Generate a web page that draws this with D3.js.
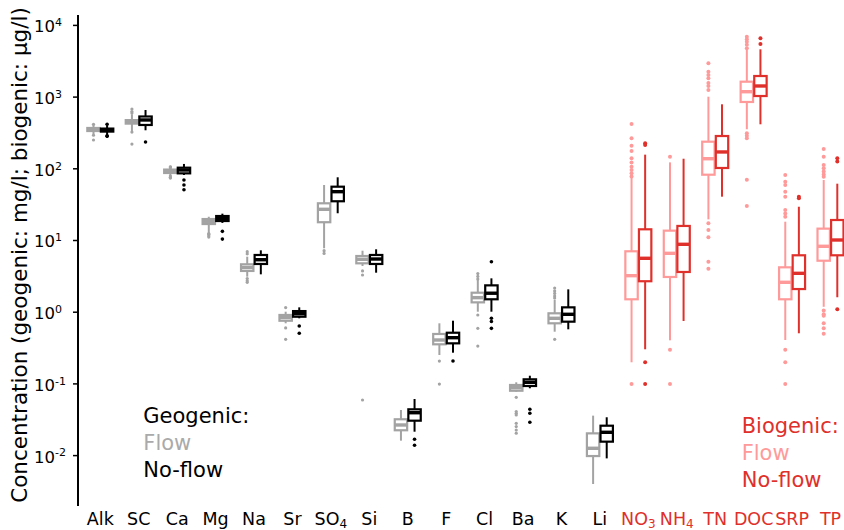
<!DOCTYPE html>
<html>
<head>
<meta charset="utf-8">
<script src="https://cdn.jsdelivr.net/npm/d3@7"></script>
<style>
  body { margin: 0; background: #fff; }
  svg { display: block; font-family: 'DejaVu Sans', sans-serif; }
</style>
</head>
<body>
<svg id="chart" width="844" height="530"></svg>
<script>
// categories, in plot order; the last six are biogenic (µg/l)
const categories = ['Alk','SC','Ca','Mg','Na','Sr','SO4','Si','B','F','Cl','Ba','K','Li','NO3','NH4','TN','DOC','SRP','TP']
const biogenic   = ['NO3','NH4','TN','DOC','SRP','TP']

// box stats per category: [whisker low, q1, median, q3, whisker high]
const flowStats = [
  [301, 331, 348, 365, 402],
  [331, 420, 447, 470, 566],
  [71, 86, 91.7, 96, 109],
  [12.5, 16.7, 18.1, 19.6, 21.1],
  [3.08, 3.70, 4.13, 4.58, 5.85],
  [0.689, 0.748, 0.83, 0.90, 1.0],
  [7.66, 17.7, 26.8, 32.5, 58.5],
  [4.34, 4.73, 5.38, 5.98, 7.09],
  [0.0159, 0.0222, 0.0263, 0.0316, 0.0426],
  [0.249, 0.351, 0.403, 0.489, 0.689],
  [1.0, 1.35, 1.57, 1.84, 2.77],
  [0.0766, 0.079, 0.0871, 0.095, 0.1036],
  [0.526, 0.689, 0.809, 0.95, 1.46],
  [0.00395, 0.0097, 0.01245, 0.0201, 0.0355],
  [0.197, 1.49, 3.18, 6.96, 76.3],
  [0.399, 3.05, 6.52, 13.5, 121],
  [19.4, 81.4, 136, 235, 997],
  [350, 841, 1170, 1614, 4467],
  [0.403, 1.49, 2.57, 4.16, 18.0],
  [1.17, 5.14, 8.17, 14.4, 68.7],
]
const noflowStats = [
  [267, 325, 343, 358, 395],
  [339, 402, 472, 528, 650],
  [80.7, 85, 94.7, 102, 115],
  [17.3, 18.4, 20, 21.6, 23.3],
  [3.32, 4.63, 5.31, 6.18, 7.18],
  [0.809, 0.851, 0.938, 1.02, 1.15],
  [23.6, 34.7, 47.2, 55.4, 74.9],
  [3.50, 4.63, 5.43, 6.18, 7.42],
  [0.0212, 0.0302, 0.039, 0.0435, 0.0606],
  [0.268, 0.362, 0.434, 0.509, 0.749],
  [1.0, 1.49, 1.81, 2.33, 2.92],
  [0.0855, 0.092, 0.1036, 0.114, 0.128],
  [0.568, 0.726, 0.92, 1.15, 2.05],
  [0.0090, 0.0154, 0.0208, 0.0257, 0.0337],
  [0.299, 2.66, 5.56, 14.1, 155],
  [0.742, 3.58, 8.71, 15.7, 136],
  [40.2, 101, 169, 282, 781],
  [411, 1019, 1406, 1937, 4567],
  [0.50, 2.07, 3.43, 6.12, 29.1],
  [1.59, 6.12, 10.0, 19.0, 61],
]

// outliers per category
const flowOutliers = [
  [248, 410, 290],
  [218, 671, 620, 590, 320],
  [105, 102, 78, 75, 73],
  [11, 11.5, 12, 12.3],
  [6.87, 6.4, 2.57, 2.7, 2.9],
  [1.14, 0.593, 0.412],
  [7.1, 6.5],
  [3.7, 3.25, 0.0587],
  [],
  [0.205, 0.098],
  [3.4, 3.1, 2.85, 0.9, 0.586, 0.332],
  [0.064, 0.0404, 0.0383, 0.0363, 0.0277, 0.025, 0.0224, 0.0202],
  [2.14, 1.95, 1.8, 1.65, 1.55, 0.412],
  [],
  [415, 262, 207, 174, 138, 120, 105, 95, 85, 77, 0.098],
  [145, 0.295, 0.098],
  [2911, 2223, 2000, 1800, 1550, 1400, 1236, 17.1, 13.8, 10.9, 4.98, 3.98],
  [6840, 6300, 5800, 5300, 4720, 308, 285, 262, 69.3, 29.8],
  [80.7, 65, 58.5, 47.2, 40.2, 26.2, 23.5, 21.1, 0.295, 0.197, 0.098],
  [186, 145, 111, 100, 90, 82, 76, 1.04, 0.92, 0.88, 0.689, 0.586, 0.493],
]
const noflowOutliers = [
  [410, 280, 285],
  [233],
  [68.7, 58.5, 50.3],
  [13.2, 10.3],
  [],
  [0.632, 0.50],
  [],
  [],
  [0.0166, 0.0137],
  [0.205],
  [4.98, 0.81, 0.73, 0.586],
  [0.0435, 0.0383, 0.0287],
  [],
  [],
  [223, 211, 0.197, 0.098],
  [],
  [],
  [6500, 5420],
  [40.2, 38.2],
  [138, 124, 1.08],
]

const yTicks = [1e-2, 1e-1, 1, 10, 100, 1000, 10000]

const COLORS = {
  geo: { flow: '#a3a3a3', noflow: '#000000', text: '#000000', flowText: '#aaaaaa' },
  bio: { flow: '#ff9a9a', noflow: '#e0302b', text: '#e0302b', flowText: '#ff9a9a' },
}

const svg = d3.select('#chart')
const axisX = 78, plotTop = 15, plotBottom = 506

// 71.7 px per decade, 10^0 at y=311.7
const y = d3.scaleLog()
  .domain([Math.pow(10, (311.7 - plotBottom) / 71.7), Math.pow(10, (311.7 - plotTop) / 71.7)])
  .range([plotBottom, plotTop])
const x = d3.scalePoint().domain(categories).range([100.3, 830.5])
const OFF = 6.8, BW = 12.4

const isBio = c => biogenic.includes(c)

// y axis; labels start at a common left edge like the original
const yAxis = svg.append('g')
  .attr('transform', `translate(${axisX},0)`)
  .call(d3.axisLeft(y).tickValues(yTicks).tickSize(5).tickSizeOuter(0).tickFormat(() => ''))
yAxis.select('.domain').attr('d', `M0,${plotTop}V${plotBottom}`).attr('stroke-width', 2)
yAxis.selectAll('.tick line').attr('stroke-width', 1.5)
yAxis.selectAll('.tick text').each(function(d) {
  const t = d3.select(this)
    .attr('x', 34 - axisX).attr('text-anchor', 'start').attr('dy', '0.42em')
    .attr('font-size', 16.5).attr('fill', '#000').attr('font-family', 'DejaVu Sans')
  t.append('tspan').text('10')
  t.append('tspan').attr('dy', '-0.55em').attr('font-size', 11).text(String(Math.round(Math.log10(d))))
})

// y label
svg.append('text')
  .attr('transform', `translate(27,255) rotate(-90)`)
  .attr('text-anchor', 'middle')
  .attr('font-size', 21.5)
  .attr('fill', '#000')
  .text('Concentration (geogenic: mg/l; biogenic: µg/l)')

// boxes
function drawBox(g, cx, s, color, outs, r) {
  const [lo, q1, med, q3, hi] = s
  g.append('line').attr('x1', cx).attr('x2', cx).attr('y1', y(hi)).attr('y2', y(q3))
    .attr('stroke', color).attr('stroke-width', 2)
  g.append('line').attr('x1', cx).attr('x2', cx).attr('y1', y(q1)).attr('y2', y(lo))
    .attr('stroke', color).attr('stroke-width', 2)
  g.append('rect').attr('x', cx - BW / 2).attr('width', BW)
    .attr('y', y(q3)).attr('height', Math.max(0.5, y(q1) - y(q3)))
    .attr('fill', '#fff').attr('stroke', color).attr('stroke-width', 2.2)
  g.append('line').attr('x1', cx - BW / 2).attr('x2', cx + BW / 2).attr('y1', y(med)).attr('y2', y(med))
    .attr('stroke', color).attr('stroke-width', 3.4)
  g.selectAll(null).data(outs).enter().append('circle')
    .attr('cx', cx).attr('cy', d => y(d)).attr('r', r).attr('fill', color)
}

const boxes = svg.append('g')
categories.forEach((c, i) => {
  const pal = isBio(c) ? COLORS.bio : COLORS.geo
  const cx = x(c)
  drawBox(boxes.append('g'), cx - OFF, flowStats[i], pal.flow, flowOutliers[i], isBio(c) ? 2 : 1.6)
  drawBox(boxes.append('g'), cx + OFF, noflowStats[i], pal.noflow, noflowOutliers[i], isBio(c) ? 2 : 1.8)
})

// x labels, with chemical subscripts
const subs = { SO4: ['SO', '4'], NO3: ['NO', '3'], NH4: ['NH', '4'] }
svg.append('g').selectAll('text').data(categories).enter().append('text')
  .attr('x', d => x(d)).attr('y', 525)
  .attr('text-anchor', 'middle').attr('font-size', 17.5)
  .attr('fill', d => isBio(d) ? COLORS.bio.text : '#000')
  .each(function(d) {
    const t = d3.select(this)
    if (subs[d]) {
      t.append('tspan').text(subs[d][0])
      t.append('tspan').attr('font-size', 12).attr('dy', 2.5).text(subs[d][1])
    } else {
      t.text(d)
    }
  })

// legends
function legend(lx, ly, title, pal) {
  const rows = [[title, pal.text], ['Flow', pal.flowText], ['No-flow', pal.text]]
  svg.append('g').selectAll('text').data(rows).enter().append('text')
    .attr('x', lx).attr('y', (d, i) => ly + i * 27)
    .attr('font-size', 21).attr('fill', d => d[1])
    .text(d => d[0])
}
legend(143.3, 422.5, 'Geogenic:', COLORS.geo)
legend(741.7, 433.3, 'Biogenic:', COLORS.bio)
</script>
</body>
</html>
